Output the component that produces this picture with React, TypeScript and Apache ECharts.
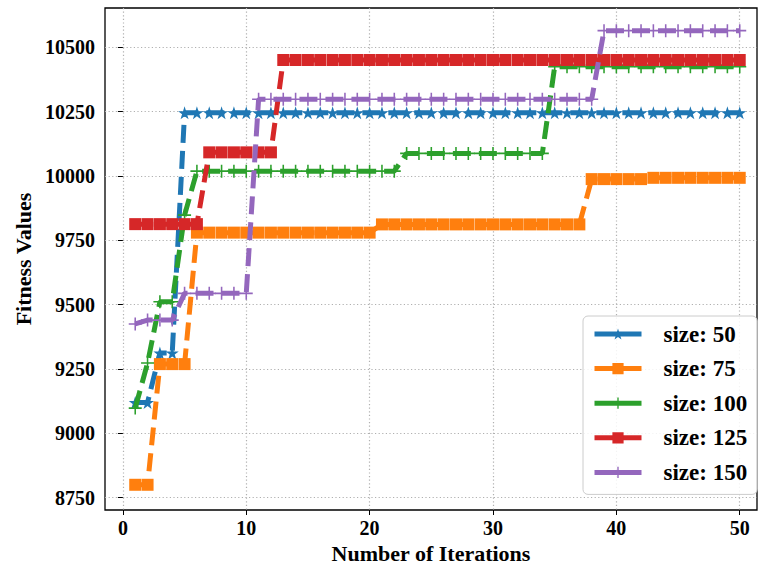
import React, { useEffect, useRef } from "react";
import * as echarts from "echarts";

const iterations = [
  1, 2, 3, 4, 5, 6, 7, 8, 9, 10, 11, 12, 13, 14, 15, 16, 17, 18, 19, 20, 21, 22, 23, 24, 25,
  26, 27, 28, 29, 30, 31, 32, 33, 34, 35, 36, 37, 38, 39, 40, 41, 42, 43, 44, 45, 46, 47, 48, 49, 50,
];

const size50 = [
  9120, 9120, 9312, 9312, 10246, 10246, 10246, 10246, 10246, 10246,
  10246, 10246, 10246, 10246, 10246, 10246, 10246, 10246, 10246, 10246,
  10246, 10246, 10246, 10246, 10246, 10246, 10246, 10246, 10246, 10246,
  10246, 10246, 10246, 10246, 10246, 10246, 10246, 10246, 10246, 10246,
  10246, 10246, 10246, 10246, 10246, 10246, 10246, 10246, 10246, 10246,
];
const size75 = [
  8800, 8800, 9269, 9269, 9269, 9780, 9780, 9780, 9780, 9780,
  9780, 9780, 9780, 9780, 9780, 9780, 9780, 9780, 9780, 9780,
  9812, 9812, 9812, 9812, 9812, 9812, 9812, 9812, 9812, 9812,
  9812, 9812, 9812, 9812, 9812, 9812, 9812, 9988, 9988, 9988,
  9988, 9988, 9993, 9993, 9993, 9993, 9993, 9993, 9993, 9993,
];
const size100 = [
  9098, 9273, 9511, 9511, 9848, 10019, 10019, 10019, 10019, 10019,
  10019, 10019, 10019, 10019, 10019, 10019, 10019, 10019, 10019, 10019,
  10019, 10019, 10088, 10088, 10088, 10088, 10088, 10088, 10088, 10088,
  10088, 10088, 10088, 10088, 10425, 10425, 10425, 10425, 10425, 10425,
  10425, 10425, 10425, 10425, 10425, 10425, 10425, 10425, 10425, 10425,
];
const size125 = [
  9813, 9813, 9813, 9813, 9813, 9813, 10092, 10092, 10092, 10092,
  10092, 10092, 10451, 10451, 10451, 10451, 10451, 10451, 10451, 10451,
  10451, 10451, 10451, 10451, 10451, 10451, 10451, 10451, 10451, 10451,
  10451, 10451, 10451, 10451, 10451, 10451, 10451, 10451, 10451, 10451,
  10451, 10451, 10451, 10451, 10451, 10451, 10451, 10451, 10451, 10451,
];
const size150 = [
  9425, 9440, 9440, 9440, 9544, 9544, 9544, 9544, 9544, 9544,
  10298, 10298, 10298, 10298, 10298, 10298, 10298, 10298, 10298, 10298,
  10298, 10298, 10298, 10298, 10298, 10298, 10298, 10298, 10298, 10298,
  10298, 10298, 10298, 10298, 10298, 10298, 10298, 10298, 10565, 10565,
  10565, 10565, 10565, 10565, 10565, 10565, 10565, 10565, 10565, 10565,
];

const seriesNames = ["size: 50", "size: 75", "size: 100", "size: 125", "size: 150"];
const seriesValues = [size50, size75, size100, size125, size150];
const seriesColors = ["#1f77b4", "#ff7f0e", "#2ca02c", "#d62728", "#9467bd"];

const xTicks = [0, 10, 20, 30, 40, 50];
const yTicks = [8750, 9000, 9250, 9500, 9750, 10000, 10250, 10500];

const STAR =
  "path://M10 0 L12.245 6.91 L19.511 6.91 L13.633 11.18 L15.878 18.09 L10 13.82 L4.122 18.09 L6.367 11.18 L0.489 6.91 L7.755 6.91 Z";
const PLUS =
  "path://M8.8 0 H11.2 V8.8 H20 V11.2 H11.2 V20 H8.8 V11.2 H0 V8.8 H8.8 Z";
const seriesSymbols = [STAR, "rect", PLUS, "rect", PLUS];
const seriesSymbolSizes = [13, 12, 13, 12, 13];

const FONT = "'Liberation Serif', 'Times New Roman', serif";

export default function App() {
  const ref = useRef<HTMLDivElement>(null);
  useEffect(() => {
    if (!ref.current) return;
    const chart = echarts.init(ref.current, null, { renderer: "svg" });
    const series = seriesNames.map((name, i) => ({
      name,
      type: "line",
      data: iterations.map((x, j) => [x, seriesValues[i][j]]),
      symbol: seriesSymbols[i],
      symbolSize: seriesSymbolSizes[i],
      showAllSymbol: true,
      z: 3 + i,
      color: seriesColors[i],
      lineStyle: { width: 5, type: [18, 8], color: seriesColors[i], cap: "butt" },
      itemStyle: { color: seriesColors[i] },
      emphasis: { disabled: true },
    }));
    chart.setOption({
      animation: false,
      backgroundColor: "#ffffff",
      grid: {
        left: 105,
        right: 3,
        top: 8,
        bottom: 56,
        show: true,
        borderColor: "#000000",
        borderWidth: 1.3,
        backgroundColor: "transparent",
        containLabel: false,
        outerBoundsMode: "none",
      },
      xAxis: {
        type: "value",
        min: -1.45,
        max: 51.4,
        name: "Number of Iterations",
        nameLocation: "middle",
        nameGap: 23,
        nameTextStyle: { fontFamily: FONT, fontWeight: "bold", fontSize: 22, color: "#000" },
        axisLine: { show: false },
        axisTick: { show: true, customValues: xTicks, length: 5, inside: false, lineStyle: { color: "#000", width: 1 } },
        axisLabel: {
          customValues: xTicks,
          margin: 8,
          fontFamily: FONT,
          fontWeight: "bold",
          fontSize: 20,
          color: "#000",
          formatter: (v: number) => String(v),
        },
        splitLine: { show: true, lineStyle: { color: "#b0b0b0", width: 1.2, type: [1.2, 2.4] } },
      },
      yAxis: {
        type: "value",
        min: 8702,
        max: 10653,
        name: "Fitness Values",
        nameLocation: "middle",
        nameGap: 66,
        nameTextStyle: { fontFamily: FONT, fontWeight: "bold", fontSize: 22, color: "#000" },
        axisLine: { show: false },
        axisTick: { show: true, customValues: yTicks, length: 5, inside: false, lineStyle: { color: "#000", width: 1 } },
        axisLabel: {
          customValues: yTicks,
          margin: 10,
          fontFamily: FONT,
          fontWeight: "bold",
          fontSize: 20,
          color: "#000",
          formatter: (v: number) => String(v),
        },
        splitLine: { show: true, lineStyle: { color: "#b0b0b0", width: 1.2, type: [1.2, 2.4] } },
      },
      legend: {
        orient: "vertical",
        left: 583,
        top: 316,
        padding: [6, 10, 10, 9],
        itemWidth: 47,
        itemHeight: 14,
        itemGap: 10.6,
        backgroundColor: "rgba(255,255,255,0.85)",
        borderColor: "#cccccc",
        borderWidth: 1,
        borderRadius: 5,
        lineStyle: { type: "solid", width: 5 },
        textStyle: {
          fontFamily: FONT,
          fontWeight: "bold",
          fontSize: 23,
          lineHeight: 24,
          color: "#000",
          padding: [0, 0, 0, 17],
        },
        data: seriesNames,
      },
      series,
    });
    return () => chart.dispose();
  }, []);
  return (
    <div
      ref={ref}
      style={{ position: "absolute", left: 0, top: 0, width: 760, height: 566 }}
    />
  );
}
